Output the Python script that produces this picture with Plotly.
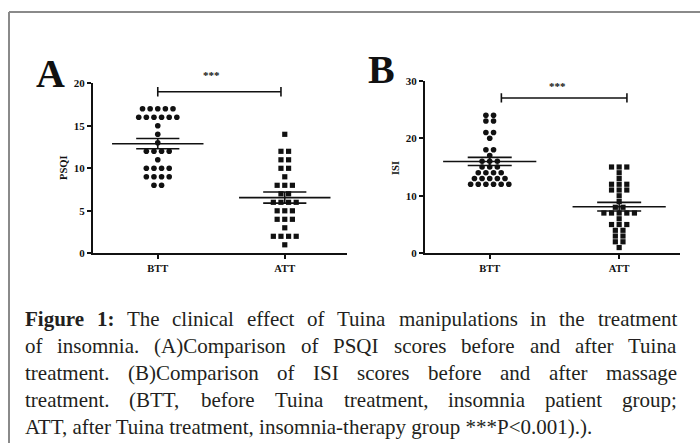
import numpy as np
import plotly.graph_objects as go

categories = ["BTT", "ATT"]
psqi_btt = [17, 17, 17, 17, 17, 16, 16, 16, 16, 16, 16, 15, 14, 13, 12, 12, 12, 12, 11,
            10, 10, 10, 10, 9, 9, 9, 9, 8, 8]
psqi_att = [14, 12, 12, 11, 11, 10, 10, 9, 8, 8, 8, 7, 7, 6, 6, 6, 6, 5, 5, 5, 4, 4, 4,
            3, 2, 2, 2, 2, 1]
isi_btt = [24, 24, 23, 23, 21, 21, 20, 18, 18, 17, 16, 16, 16, 15, 15, 15, 14, 14, 14, 14,
           13, 13, 13, 13, 13, 12, 12, 12, 12, 12, 12]
isi_att = [15, 15, 15, 14, 13, 12, 12, 12, 11, 11, 11, 10, 9, 8, 8, 7, 7, 7, 7, 7, 6,
           5, 5, 5, 4, 4, 3, 3, 2, 2, 1]
psqi_ticks = [0, 5, 10, 15, 20]
isi_ticks = [0, 10, 20, 30]

caption_bold = "Figure 1:"
caption_lines = [
    "Figure 1: The clinical effect of Tuina manipulations in the treatment",
    "of insomnia. (A)Comparison of PSQI scores before and after Tuina",
    "treatment. (B)Comparison of ISI scores before and after massage",
    "treatment. (BTT, before Tuina treatment, insomnia patient group;",
    "ATT, after Tuina treatment, insomnia-therapy group ***P<0.001).).",
]

W, H = 700, 445
SERIF = "Liberation Serif"
INK = "#111111"
CAP_INK = "#231f20"


def px(x):
    return x / W


def py(y):
    return 1 - y / H


# Times / Liberation Serif advance widths (per 1000 em)
_REG = {" ": 250, "(": 333, ")": 333, "*": 500, ",": 250, "-": 333, ".": 250, ":": 278,
        ";": 278, "<": 564}
_REG.update({d: 500 for d in "0123456789"})
_REG.update(dict(zip("ABCDEFGHIJKLMNOPQRSTUVWXYZ",
                     [722, 667, 667, 722, 611, 556, 722, 722, 333, 389, 722, 611, 889, 722,
                      722, 556, 722, 667, 556, 611, 722, 722, 944, 722, 722, 611])))
_REG.update(dict(zip("abcdefghijklmnopqrstuvwxyz",
                     [444, 500, 444, 500, 444, 333, 500, 500, 278, 278, 500, 278, 778, 500,
                      500, 500, 500, 333, 389, 278, 500, 500, 722, 500, 500, 444])))
_BOLD = {"F": 611, "i": 278, "g": 500, "u": 556, "r": 444, "e": 444, "1": 500, ":": 333,
         " ": 250}


def text_w(s, size, bold=False):
    tbl = _BOLD if bold else _REG
    return sum(tbl.get(c, 500) for c in s) * size / 1000.0


def dot_offsets(values, spacing):
    vals = np.asarray(values, dtype=float)
    offs = np.zeros(len(vals))
    for v in np.unique(vals):
        idx = np.where(vals == v)[0]
        n = len(idx)
        offs[idx] = (np.arange(n) - (n - 1) / 2) * spacing
    return offs


fig = go.Figure()


def add_panel(xn, yn, btt, att, sp):
    for i, (vals, sym) in enumerate([(btt, "circle"), (att, "square")]):
        offs = dot_offsets(vals, sp)
        fig.add_trace(go.Scatter(
            x=i + offs, y=vals, mode="markers", xaxis=xn, yaxis=yn,
            marker=dict(symbol=sym, size=5.6 if sym == "circle" else 5.2, color=INK,
                        line=dict(width=0)),
            showlegend=False, cliponaxis=False, hoverinfo="skip"))
        arr = np.asarray(vals, dtype=float)
        m = arr.mean()
        se = arr.std(ddof=1) / np.sqrt(len(arr))
        lw = 1.6
        segs = [([i - 0.36, i + 0.36], [m, m]),
                ([i - 0.17, i + 0.17], [m - se, m - se]),
                ([i - 0.17, i + 0.17], [m + se, m + se]),
                ([i, i], [m - se, m + se])]
        for sx, sy in segs:
            fig.add_trace(go.Scatter(x=sx, y=sy, mode="lines", xaxis=xn, yaxis=yn,
                                     line=dict(color=INK, width=lw), showlegend=False,
                                     hoverinfo="skip"))


add_panel("x", "y", psqi_btt, psqi_att, 0.06)
add_panel("x2", "y2", isi_btt, isi_att, 0.059)

axfont = dict(family=SERIF, size=10.5, color=INK, weight="bold")
common_x = dict(showline=True, linewidth=2, linecolor=INK, ticks="outside", ticklen=4,
                tickwidth=2, tickcolor=INK, tickvals=[0, 1], ticktext=categories,
                showgrid=False, zeroline=False, tickfont=axfont)
common_y = dict(showline=True, linewidth=2, linecolor=INK, ticks="outside", ticklen=4,
                tickwidth=2, tickcolor=INK, showgrid=False, zeroline=False,
                tickfont=dict(family=SERIF, size=11, color=INK, weight="bold"))

fig.update_layout(
    width=W, height=H, margin=dict(l=0, r=0, t=0, b=0, autoexpand=False),
    paper_bgcolor="white", plot_bgcolor="white",
    xaxis=dict(domain=[px(93), px(347)], range=[-0.51, 1.49], anchor="y", **common_x),
    yaxis=dict(domain=[py(253.3), py(83.3)], range=[0, 20], tickvals=psqi_ticks,
               anchor="x", **common_y),
    xaxis2=dict(domain=[px(425), px(680)], range=[-0.5, 1.47], anchor="y2", **common_x),
    yaxis2=dict(domain=[py(253.3), py(80.7)], range=[0, 30], tickvals=isi_ticks,
                anchor="x2", **common_y),
)

# significance brackets
for xr, yr, x0, x1, yb, h, ytxt_px, xt in [("x", "y", 0.0, 0.97, 19, 0.55, 75, 0.42),
                                           ("x2", "y2", 0.09, 1.06, 27, 0.8, 86, 0.52)]:
    fig.add_shape(type="line", xref=xr, yref=yr, x0=x0, x1=x1, y0=yb, y1=yb,
                  line=dict(color=INK, width=1.6))
    for xx in (x0, x1):
        fig.add_shape(type="line", xref=xr, yref=yr, x0=xx, x1=xx, y0=yb - h, y1=yb + h,
                      line=dict(color=INK, width=1.6))
    fig.add_annotation(x=xt, y=py(ytxt_px), xref=xr, yref="paper", text="***",
                       showarrow=False, xanchor="center", yanchor="middle",
                       font=dict(family=SERIF, size=11, color=INK, weight="bold"))

# axis titles
for xx, txt in [(63, "PSQI"), (395, "ISI")]:
    fig.add_annotation(x=px(xx), y=py(168), xref="paper", yref="paper", text=txt,
                       textangle=-90, showarrow=False, xanchor="center", yanchor="middle",
                       font=dict(family=SERIF, size=10.5, color=INK, weight="bold"))

# panel letters
for xx, yy, txt in [(50, 73, "A"), (381, 69, "B")]:
    fig.add_annotation(x=px(xx), y=py(yy), xref="paper", yref="paper", text=txt,
                       showarrow=False, xanchor="center", yanchor="middle",
                       font=dict(family=SERIF, size=40, color=INK, weight="bold"))

# caption (justified lines 1-4, last line left aligned)
CAP_SIZE = 21
LEFT, RIGHT = 24, 676
for k, line in enumerate(caption_lines):
    ycen = py(319 + 27 * k)
    if k == len(caption_lines) - 1:
        fig.add_annotation(x=px(LEFT), y=ycen, xref="paper", yref="paper",
                           text=line.replace("<", "&lt;"), showarrow=False,
                           xanchor="left", yanchor="middle", borderpad=0,
                           font=dict(family=SERIF, size=CAP_SIZE, color=CAP_INK))
        continue
    words = line.split(" ")
    bold_n = len(caption_bold.split(" ")) if line.startswith(caption_bold) else 0
    widths = [text_w(w, CAP_SIZE, bold=(j < bold_n)) for j, w in enumerate(words)]
    gap = (RIGHT - LEFT - sum(widths)) / (len(words) - 1)
    xcur = LEFT
    for j, w in enumerate(words):
        txt = f"<b>{w}</b>" if j < bold_n else w
        fig.add_annotation(x=px(xcur), y=ycen, xref="paper", yref="paper", text=txt,
                           showarrow=False, xanchor="left", yanchor="middle", borderpad=0,
                           font=dict(family=SERIF, size=CAP_SIZE, color=CAP_INK))
        xcur += widths[j] + gap

# frame
fig.add_shape(type="line", xref="paper", yref="paper", x0=px(9), x1=1.0,
              y0=py(12), y1=py(12), line=dict(color="#8a8a8a", width=2))
fig.add_shape(type="line", xref="paper", yref="paper", x0=px(9), x1=px(9),
              y0=py(12), y1=py(443), line=dict(color="#8a8a8a", width=2))

fig.write_html("out.html", config={"displayModeBar": False},
               post_script="document.body.style.margin='0';")
